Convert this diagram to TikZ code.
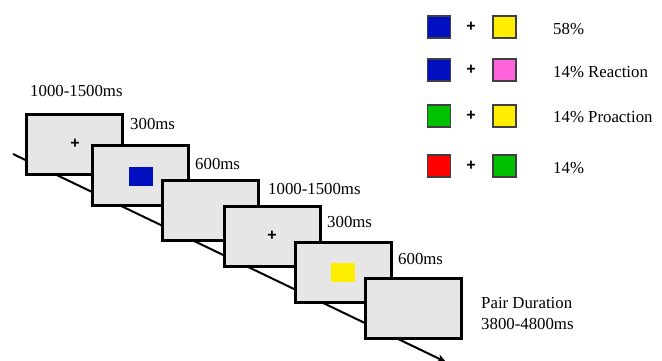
\documentclass[tikz,border=0pt]{standalone}
\usepackage{fontspec}
\setmainfont{Liberation Serif}
\newfontfamily\plusfont{Liberation Sans}
\usetikzlibrary{arrows.meta}
\definecolor{stimblue}{RGB}{0,16,192}
\definecolor{stimyellow}{RGB}{255,238,0}
\definecolor{stimpink}{RGB}{255,100,220}
\definecolor{stimgreen}{RGB}{0,192,0}
\definecolor{stimred}{RGB}{255,0,0}
\definecolor{screengray}{RGB}{230,230,230}
\begin{document}
\begin{tikzpicture}[x=1pt,y=-1pt,
  screen/.style={draw=black,line width=3pt,fill=screengray,minimum width=96pt,minimum height=60pt,inner sep=0pt},
  lbl/.style={anchor=west,inner sep=0pt,font=\fontsize{16.8}{20}\selectfont},
  fix/.style={inner sep=0pt,font=\plusfont\bfseries\fontsize{16}{18}\selectfont},
  sw/.style={draw=black!75,line width=1.2pt,minimum width=23pt,minimum height=22pt,inner sep=0pt},
  rect/.style={inner sep=0pt,minimum width=24pt,minimum height=19pt}]
\useasboundingbox (0,0) rectangle (662,360);
\coordinate (lstart) at (13,154);
\coordinate (lend) at (446,362);
\draw[line width=2pt,-{Stealth[length=9pt,width=8pt]}] (lstart) -- (lend);
\node[screen] (s1) at (74.5,144) {};
\node[screen] (s2) at (140.5,175) {};
\node[screen] (s3) at (210.5,210) {};
\node[screen] (s4) at (272,236) {};
\node[screen] (s5) at (343,272) {};
\node[screen] (s6) at (413.5,308.5) {};
\node[fix] (p1) at (75,144) {+};
\node[rect,fill=stimblue] (b1) at (141,176.5) {};
\node[fix] (p2) at (272,235.5) {+};
\node[rect,fill=stimyellow] (y1) at (343,272) {};
\node[lbl] (t1) at (30,91) {1000-1500ms};
\node[lbl] (t2) at (130,124) {300ms};
\node[lbl] (t3) at (195,164) {600ms};
\node[lbl] (t4) at (268,189) {1000-1500ms};
\node[lbl] (t5) at (327,222) {300ms};
\node[lbl] (t6) at (398,259) {600ms};
\node[lbl] (t7) at (481,303) {Pair Duration};
\node[lbl] (t8) at (481,324) {3800-4800ms};
\node[sw,fill=stimblue] (a1) at (439,27) {};
\node[fix] (q1) at (471,27) {+};
\node[sw,fill=stimyellow] (c1) at (504.5,27) {};
\node[lbl] (r1) at (553,29) {58\%};
\node[sw,fill=stimblue] (a2) at (439,70) {};
\node[fix] (q2) at (471,70) {+};
\node[sw,fill=stimpink] (c2) at (504.5,70) {};
\node[lbl] (r2) at (553,72) {14\% Reaction};
\node[sw,fill=stimgreen] (a3) at (439,116) {};
\node[fix] (q3) at (471,116) {+};
\node[sw,fill=stimyellow] (c3) at (504.5,116) {};
\node[lbl] (r3) at (553,117) {14\% Proaction};
\node[sw,fill=stimred] (a4) at (439,166) {};
\node[fix] (q4) at (471,166) {+};
\node[sw,fill=stimgreen] (c4) at (504.5,166) {};
\node[lbl] (r4) at (553,168) {14\%};
\end{tikzpicture}
\end{document}
